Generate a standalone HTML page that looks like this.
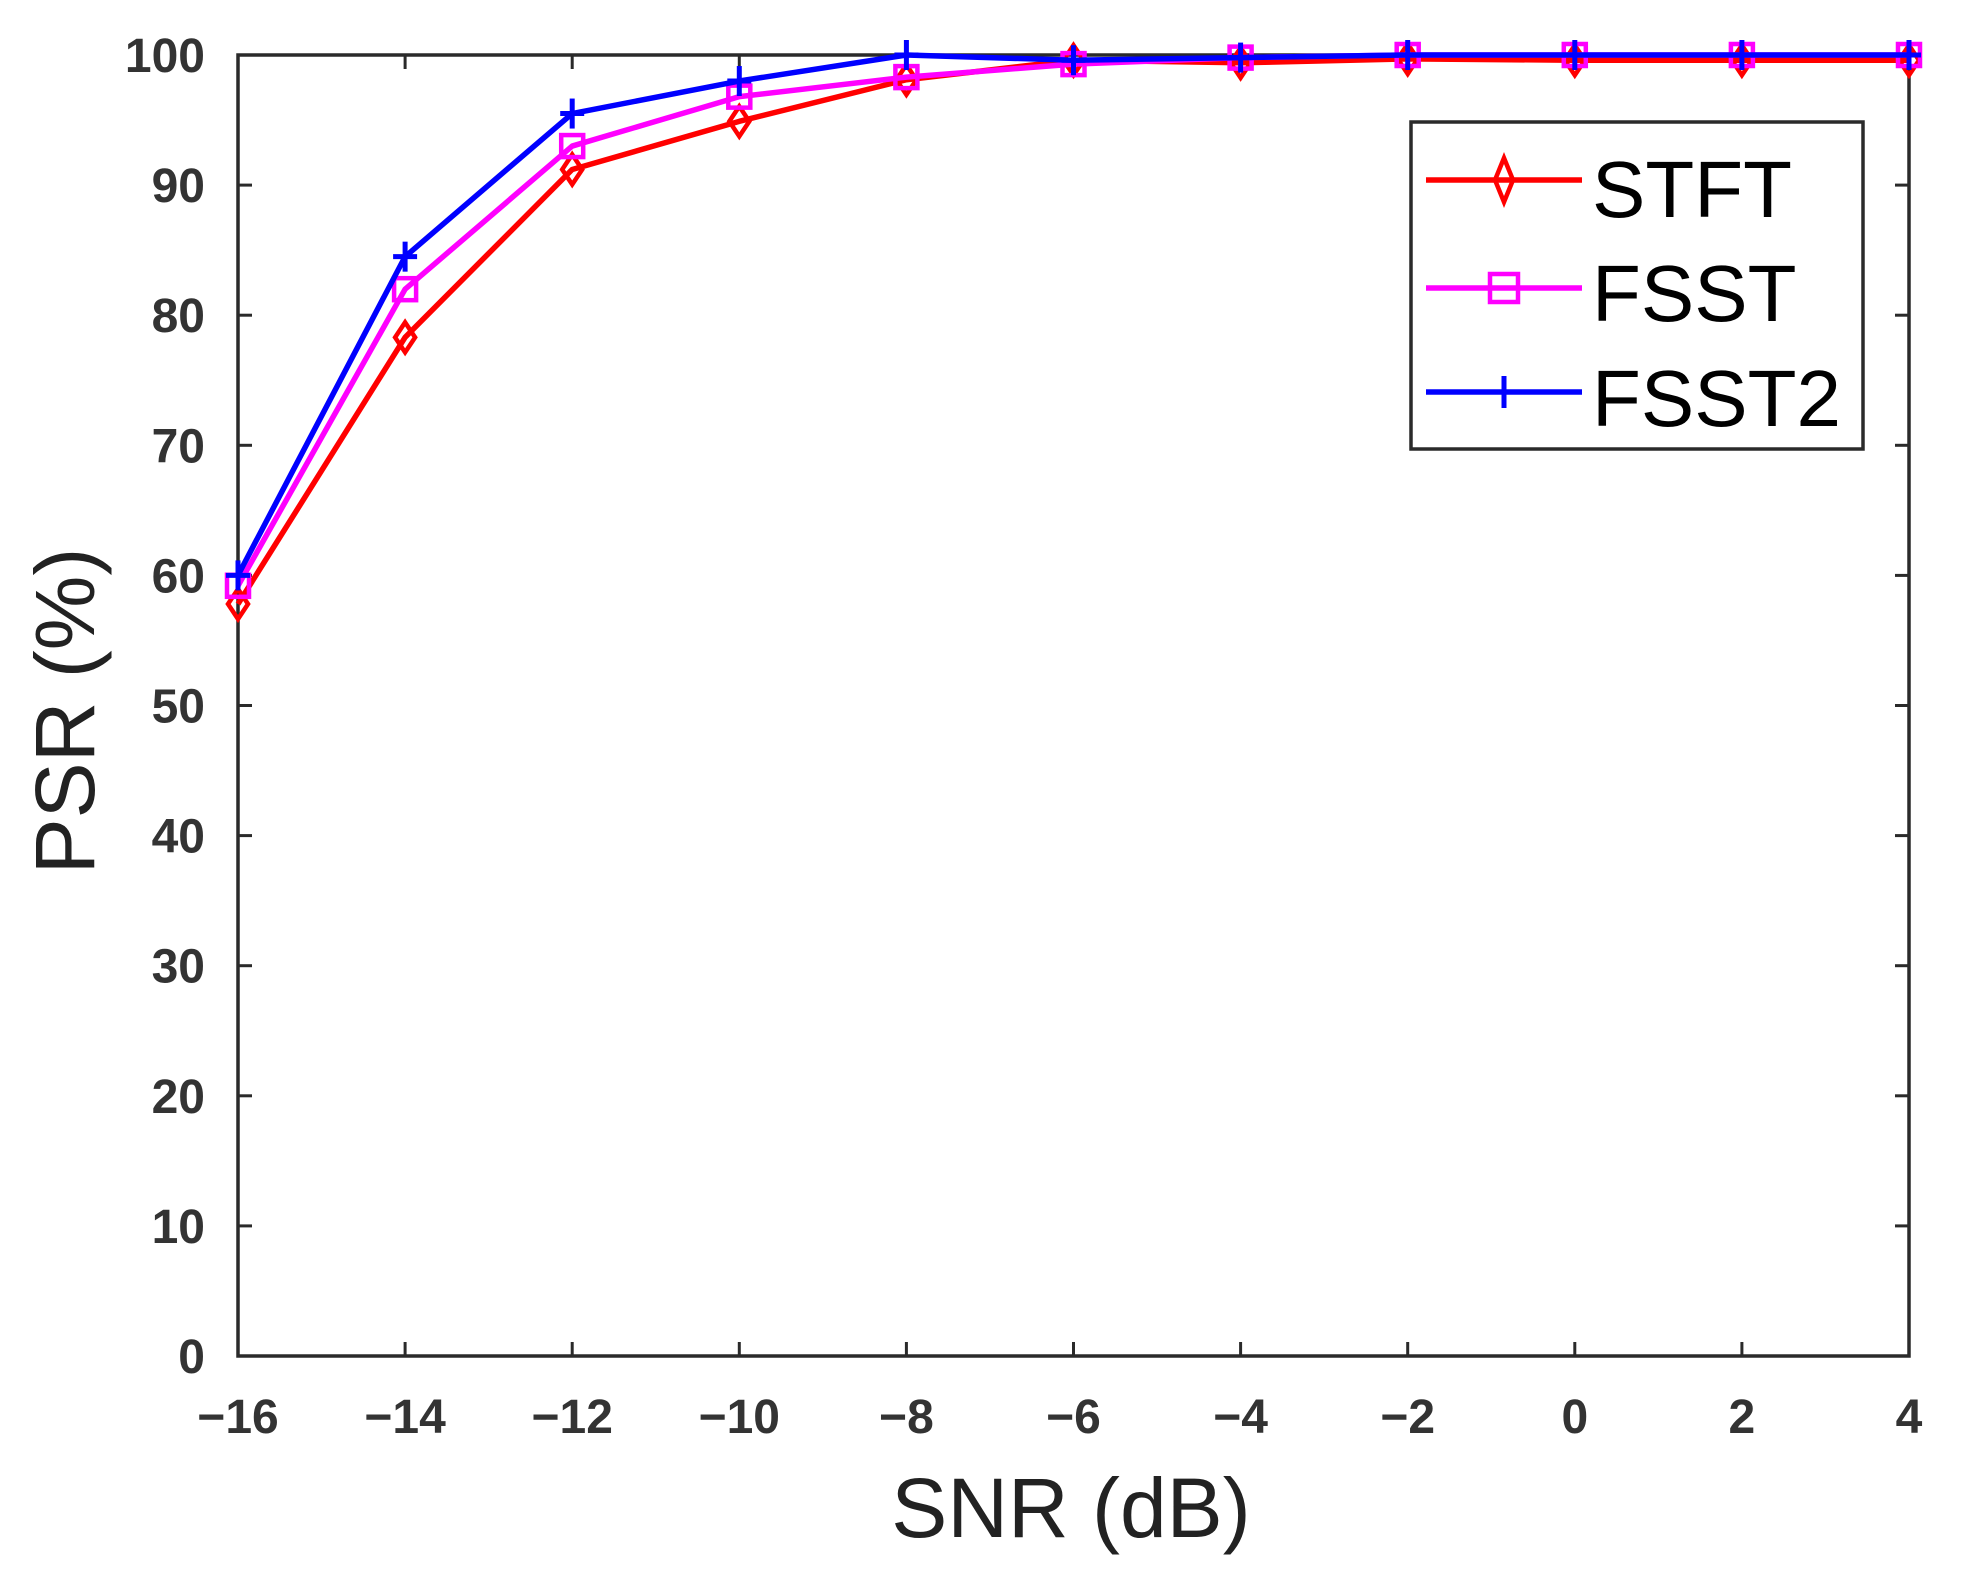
<!DOCTYPE html>
<html><head><meta charset="utf-8"><style>
html,body{margin:0;padding:0;background:#fff;}
svg{display:block;}
.tk{font-family:"Liberation Sans Narrow","Liberation Sans",sans-serif;font-size:48px;fill:#333;font-weight:bold;}
</style></head><body>
<svg width="1964" height="1586" viewBox="0 0 1964 1586" xmlns="http://www.w3.org/2000/svg">
<rect width="1964" height="1586" fill="#fff"/>
<g id="ticks" stroke="#2a2a2a" stroke-width="3" fill="none"></g>
<rect x="238" y="55" width="1671" height="1301" fill="none" stroke="#2a2a2a" stroke-width="3.5"/>
<g id="labels"></g>
<g id="series"></g>
<text x="1071" y="1537" text-anchor="middle" font-family="Liberation Sans, sans-serif" font-size="84" fill="#222">SNR (dB)</text>
<text transform="translate(94,711) rotate(-90)" text-anchor="middle" font-family="Liberation Sans, sans-serif" font-size="84" fill="#222">PSR (%)</text>
<rect x="1411" y="122" width="452" height="327" fill="#fff" stroke="#2a2a2a" stroke-width="3.5"/>
<line x1="1426" y1="180" x2="1582" y2="180" stroke="#f00" stroke-width="5.5"/>
<polygon points="1504,158 1513,180 1504,202 1495,180" fill="none" stroke="#f00" stroke-width="4.5"/>
<line x1="1426" y1="288" x2="1582" y2="288" stroke="#f0f" stroke-width="5.5"/>
<rect x="1490" y="274" width="28" height="28" fill="none" stroke="#f0f" stroke-width="4.5"/>
<line x1="1426" y1="392" x2="1582" y2="392" stroke="#00f" stroke-width="5.5"/>
<line x1="1504" y1="376" x2="1504" y2="408" stroke="#00f" stroke-width="5"/>
<g font-family="Liberation Sans, sans-serif" font-size="80" fill="#000">
<text x="1592" y="217">STFT</text>
<text x="1592" y="321">FSST</text>
<text x="1592" y="426">FSST2</text>
</g>
<script>
(function(){
var ns="http://www.w3.org/2000/svg";
var x0=238,x1=1909,y0=1356,y1=55;
function X(v){return x0+(v+16)/20*(x1-x0);}
function Y(v){return y0-(v/100)*(y0-y1);}
function el(t,a,p){var e=document.createElementNS(ns,t);for(var k in a)e.setAttribute(k,a[k]);p.appendChild(e);return e;}
var tk=document.getElementById('ticks'),lb=document.getElementById('labels');
for(var v=-16;v<=4;v+=2){var x=X(v);
 el('line',{x1:x,y1:y0,x2:x,y2:y0-14},tk);el('line',{x1:x,y1:y1,x2:x,y2:y1+14},tk);
 var t=el('text',{x:x,y:1433,'text-anchor':'middle','class':'tk'},lb);t.textContent=(v<0?'\u2212':'')+Math.abs(v);}
for(var v=0;v<=100;v+=10){var y=Y(v);
 el('line',{x1:x0,y1:y,x2:x0+14,y2:y},tk);el('line',{x1:x1,y1:y,x2:x1-14,y2:y},tk);
 var t=el('text',{x:205,y:y+17,'text-anchor':'end','class':'tk'},lb);t.textContent=v;}
var xs=[-16,-14,-12,-10,-8,-6,-4,-2,0,2,4];
var S=[
 {c:'#f00',d:[57.8,78.3,91.2,94.9,98.1,99.6,99.4,99.7,99.6,99.6,99.6],m:'d'},
 {c:'#f0f',d:[59.2,82,93,96.8,98.3,99.3,99.8,100,100,100,100],m:'s'},
 {c:'#00f',d:[60,84.5,95.5,98,100,99.6,99.8,100,100,100,100],m:'p'}];
var g=document.getElementById('series');
S.forEach(function(s){
 var pts=xs.map(function(x,i){return X(x)+','+Y(s.d[i]);}).join(' ');
 el('polyline',{points:pts,fill:'none',stroke:s.c,'stroke-width':5.5,'stroke-linejoin':'round'},g);
 xs.forEach(function(x,i){var cx=X(x),cy=Y(s.d[i]);
  if(s.m=='d')el('polygon',{points:(cx)+','+(cy-15)+' '+(cx+10)+','+cy+' '+cx+','+(cy+15)+' '+(cx-10)+','+cy,fill:'none',stroke:s.c,'stroke-width':4.5},g);
  else if(s.m=='s')el('rect',{x:cx-11,y:cy-11,width:22,height:22,fill:'none',stroke:s.c,'stroke-width':4.5},g);
  else{el('line',{x1:cx-12,y1:cy,x2:cx+12,y2:cy,stroke:s.c,'stroke-width':5},g);el('line',{x1:cx,y1:cy-15,x2:cx,y2:cy+15,stroke:s.c,'stroke-width':5},g);}
 });
});
})();
</script>
</svg>
</body></html>
